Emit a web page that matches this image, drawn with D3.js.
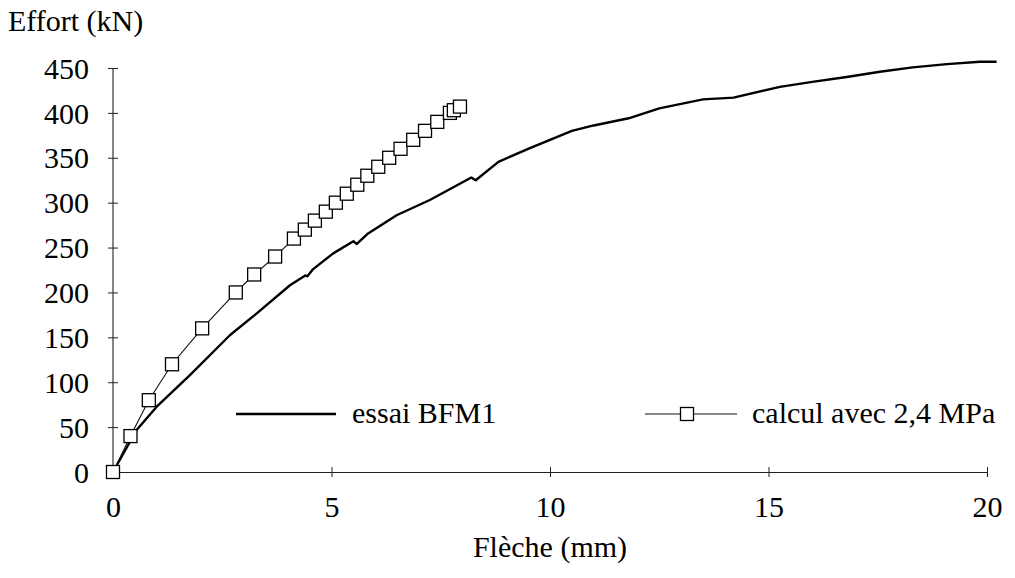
<!DOCTYPE html>
<html><head><meta charset="utf-8">
<script src="https://cdn.jsdelivr.net/npm/d3@7"></script>
<style>
body{margin:0;background:#fff;}
svg{display:block;}
</style></head>
<body><svg id="c" width="1015" height="578"></svg>
<script>
const essaiX = [0, 0.54, 1.0, 1.76, 2.68, 3.29, 4.05, 4.4, 4.45, 4.58, 5.04, 5.5, 5.58, 5.82, 6.49, 7.25, 8.2, 8.3, 8.82, 9.5, 10.0, 10.5, 11.0, 11.8, 12.5, 13.5, 14.2, 15.26, 16.0, 16.79, 17.55, 18.3, 19.08, 19.84, 20.22];
const essaiY = [0, 46.8, 72.7, 108, 152.6, 176.7, 208, 219, 218, 226, 243.5, 257, 254, 265, 286, 303, 328, 325, 345.5, 360, 370, 380, 386, 394, 405, 415, 417, 429, 434.6, 440, 445.8, 450.7, 454.3, 457, 457];
const calcX = [0, 0.4, 0.82, 1.35, 2.04, 2.81, 3.23, 3.71, 4.14, 4.39, 4.62, 4.87, 5.1, 5.35, 5.59, 5.82, 6.07, 6.32, 6.58, 6.87, 7.14, 7.42, 7.71, 7.8, 7.94];
const calcY = [0, 40, 80, 120, 160, 200, 220, 240, 260, 270, 280, 290, 300, 310, 320, 330, 340, 350, 360, 370, 380, 390, 400, 403, 407];
const xTicks = [0, 5, 10, 15, 20];
const yTicks = [0, 50, 100, 150, 200, 250, 300, 350, 400, 450];
const seriesNames = ["essai BFM1", "calcul avec 2,4 MPa"];
const yTitle = "Effort (kN)";
const xTitle = "Flèche (mm)";

const FS = 30;
const FONT = "'Liberation Serif', 'Times New Roman', 'DejaVu Serif', serif";
const svg = d3.select("#c");
const x = d3.scaleLinear().domain([0, 20]).range([113, 987]);
const y = d3.scaleLinear().domain([0, 450]).range([472, 68]);

// axes
const gx = svg.append("g").attr("transform", `translate(0,${y(0)})`)
  .call(d3.axisBottom(x).tickValues(xTicks).tickSize(5).tickPadding(19).tickFormat(d3.format("d")));
gx.attr("font-family", FONT).attr("font-size", FS);
gx.select(".domain").attr("stroke", "#222").attr("stroke-width", 1.1);
gx.selectAll(".tick line").attr("y1", -5).attr("y2", 5).attr("stroke", "#222");
gx.selectAll(".tick text").style("font-family", FONT).style("font-size", FS + "px").attr("fill", "#000").attr("dy", "0.71em");

const gy = svg.append("g").attr("transform", `translate(${x(0)},0)`)
  .call(d3.axisLeft(y).tickValues(yTicks).tickSize(5).tickPadding(19).tickFormat(d3.format("d")));
gy.attr("font-family", FONT).attr("font-size", FS);
gy.select(".domain").attr("stroke", "#222").attr("stroke-width", 1.1).attr("d", `M0,${y(0)}V${y(450)}`);
gy.selectAll(".tick line").attr("x1", -5).attr("x2", 5).attr("stroke", "#222");
gy.selectAll(".tick text").style("font-family", FONT).style("font-size", FS + "px").attr("fill", "#000").attr("dy", "0.34em");

function label(sel) { return sel.style("font-family", FONT).style("font-size", FS + "px").attr("fill", "#000"); }

label(svg.append("text").attr("x", 8).attr("y", 31)).text(yTitle);
label(svg.append("text").attr("x", 550).attr("y", 557).attr("text-anchor", "middle")).text(xTitle);

const line = d3.line().x(d => x(d[0])).y(d => y(d[1]));
const essai = essaiX.map((v, i) => [v, essaiY[i]]);
const calc = calcX.map((v, i) => [v, calcY[i]]);

svg.append("path").datum(essai).attr("d", line).attr("fill", "none")
  .attr("stroke", "#000").attr("stroke-width", 2.4).attr("stroke-linejoin", "round");

svg.append("path").datum(calc).attr("d", line).attr("fill", "none")
  .attr("stroke", "#111").attr("stroke-width", 1.1);

const ms = 13;
svg.append("g").selectAll("rect").data(calc).join("rect")
  .attr("x", d => x(d[0]) - ms / 2).attr("y", d => y(d[1]) - ms / 2)
  .attr("width", ms).attr("height", ms)
  .attr("fill", "#fff").attr("stroke", "#000").attr("stroke-width", 1.3);

// legend
const leg = svg.append("g");
leg.append("line").attr("x1", 236).attr("x2", 336).attr("y1", 414).attr("y2", 414)
  .attr("stroke", "#000").attr("stroke-width", 2.4);
label(leg.append("text").attr("x", 352).attr("y", 423)).text(seriesNames[0]);
leg.append("line").attr("x1", 645).attr("x2", 737).attr("y1", 414).attr("y2", 414)
  .attr("stroke", "#111").attr("stroke-width", 1.1);
leg.append("rect").attr("x", 687 - ms / 2).attr("y", 414 - ms / 2).attr("width", ms).attr("height", ms)
  .attr("fill", "#fff").attr("stroke", "#000").attr("stroke-width", 1.3);
label(leg.append("text").attr("x", 752).attr("y", 423)).text(seriesNames[1]);
</script></body></html>
